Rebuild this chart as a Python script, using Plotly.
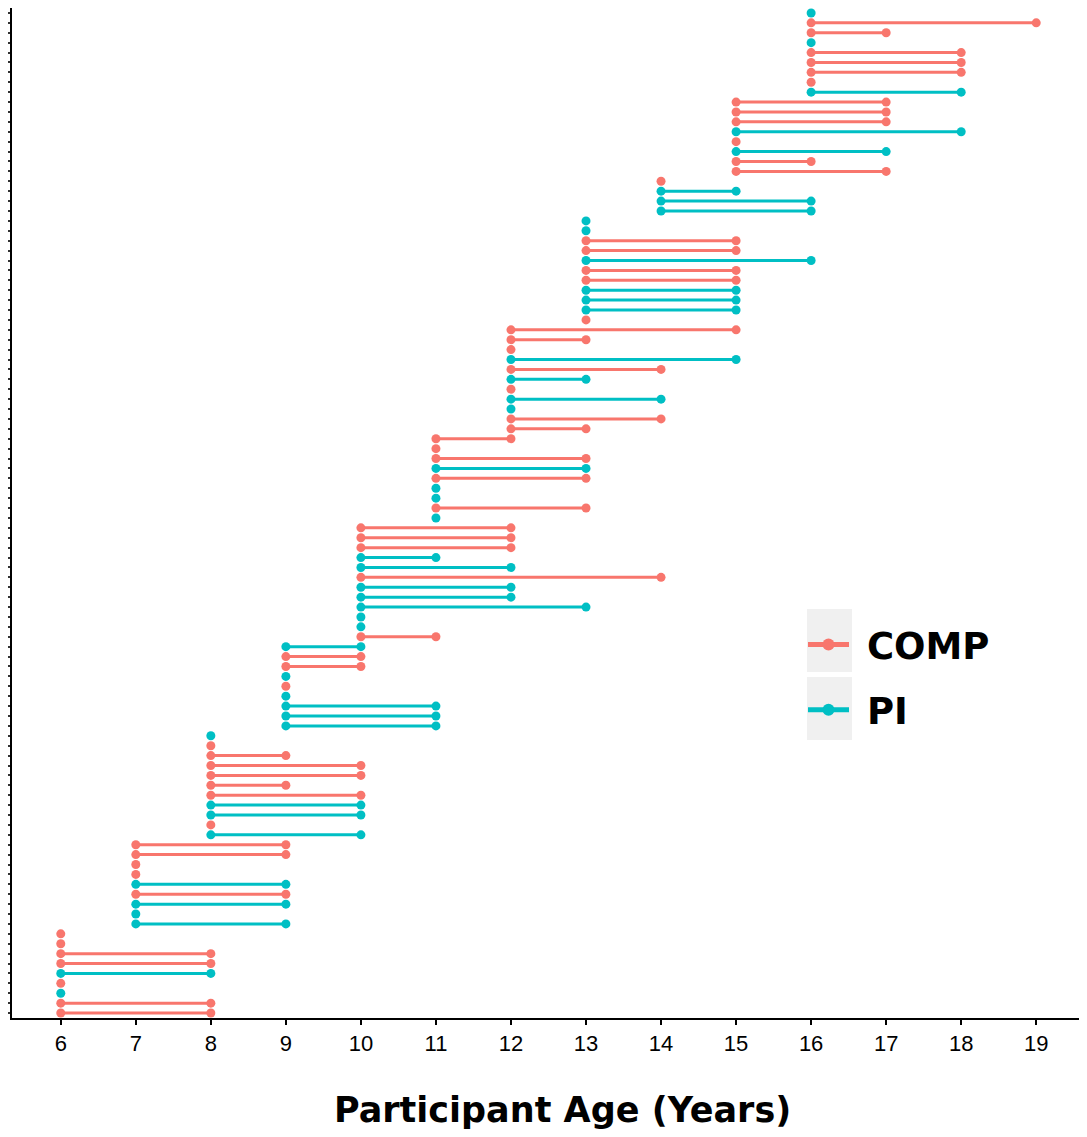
import plotly.graph_objects as go

# Rows listed top to bottom: group, age at first visit, age at last visit
groups = ["PI", "COMP", "COMP", "PI", "COMP", "COMP", "COMP", "COMP", "PI", "COMP",
          "COMP", "COMP", "PI", "COMP", "PI", "COMP", "COMP", "COMP", "PI", "PI",
          "PI", "PI", "PI", "COMP", "COMP", "PI", "COMP", "COMP", "PI", "PI",
          "PI", "COMP", "COMP", "COMP", "COMP", "PI", "COMP", "PI", "COMP", "PI",
          "PI", "COMP", "COMP", "COMP", "COMP", "COMP", "PI", "COMP", "PI", "PI",
          "COMP", "PI", "COMP", "COMP", "COMP", "PI", "PI", "COMP", "PI", "PI",
          "PI", "PI", "PI", "COMP", "PI", "COMP", "COMP", "PI", "COMP", "PI",
          "PI", "PI", "PI", "PI", "COMP", "COMP", "COMP", "COMP", "COMP", "COMP",
          "PI", "PI", "COMP", "PI", "COMP", "COMP", "COMP", "COMP", "PI", "COMP",
          "PI", "PI", "PI", "COMP", "COMP", "COMP", "COMP", "PI", "COMP", "PI",
          "COMP", "COMP"]
start_age = [16, 16, 16, 16, 16, 16, 16, 16, 16, 15,
             15, 15, 15, 15, 15, 15, 15, 14, 14, 14,
             14, 13, 13, 13, 13, 13, 13, 13, 13, 13,
             13, 13, 12, 12, 12, 12, 12, 12, 12, 12,
             12, 12, 12, 11, 11, 11, 11, 11, 11, 11,
             11, 11, 10, 10, 10, 10, 10, 10, 10, 10,
             10, 10, 10, 10, 9, 9, 9, 9, 9, 9,
             9, 9, 9, 8, 8, 8, 8, 8, 8, 8,
             8, 8, 8, 8, 7, 7, 7, 7, 7, 7,
             7, 7, 7, 6, 6, 6, 6, 6, 6, 6,
             6, 6]
end_age = [16, 19, 17, 16, 18, 18, 18, 16, 18, 17,
           17, 17, 18, 15, 17, 16, 17, 14, 15, 16,
           16, 13, 13, 15, 15, 16, 15, 15, 15, 15,
           15, 13, 15, 13, 12, 15, 14, 13, 12, 14,
           12, 14, 13, 12, 11, 13, 13, 13, 11, 11,
           13, 11, 12, 12, 12, 11, 12, 14, 12, 12,
           13, 10, 10, 11, 10, 10, 10, 9, 9, 9,
           11, 11, 11, 8, 8, 9, 10, 10, 9, 10,
           10, 10, 8, 10, 9, 9, 7, 7, 9, 9,
           9, 7, 9, 6, 6, 8, 8, 8, 6, 6,
           8, 8]
x_ticks = list(range(6, 20))
x_title = "Participant Age (Years)"

colors = {"COMP": "#F8766D", "PI": "#00BFC4"}
n = len(groups)
rows = [n - i for i in range(n)]  # top row gets highest position

fig = go.Figure()
for g in ["COMP", "PI"]:
    xs, ys = [], []
    for grp, s, e, r in zip(groups, start_age, end_age, rows):
        if grp != g:
            continue
        if e != s:
            xs += [s, e, None]
            ys += [r, r, None]
        else:
            xs += [s, None]
            ys += [r, None]
    fig.add_trace(go.Scatter(
        x=xs, y=ys, mode="lines+markers", name="\u00a0" + g, legendgroup=g,
        line=dict(color=colors[g], width=3),
        marker=dict(color=colors[g], size=9),
        connectgaps=False,
    ))

# page body has an 8px margin, so the figure is sized to fit the window
OFF = 8
W, H = 1087 - OFF, 1137 - OFF
L, R, T, B = 12 - OFF, 2, 8 - OFF, 119
pw = W - L - R
ph = H - T - B

def px2x(p):
    return (p - OFF - L) / pw

def py2y(p):
    return (H - B - (p - OFF)) / ph

shapes = []
for (y0, y1) in [(609, 672), (677, 740)]:
    shapes.append(dict(type="rect", xref="paper", yref="paper",
                       x0=px2x(807), x1=px2x(852), y0=py2y(y1), y1=py2y(y0),
                       fillcolor="#F0F0F0", line=dict(width=0), layer="below"))

fig.update_layout(
    width=W, height=H,
    margin=dict(l=L, r=R, t=T, b=B),
    plot_bgcolor="white", paper_bgcolor="white",
    shapes=shapes,
    showlegend=True,
    legend=dict(
        x=px2x(803), y=py2y(614), xanchor="left", yanchor="top",
        bgcolor="rgba(0,0,0,0)", borderwidth=0,
        font=dict(family="DejaVu Sans, Liberation Sans, sans-serif", size=37, color="black",
                  weight="bold"),
        tracegroupgap=14, itemwidth=41, itemsizing="constant",
    ),
    annotations=[dict(
        text="<b>" + x_title + "</b>", xref="paper", yref="paper",
        x=px2x(562), y=py2y(1110), xanchor="center", yanchor="middle",
        showarrow=False,
        font=dict(family="DejaVu Sans, Liberation Sans, sans-serif", size=35, color="black"),
    )],
    xaxis=dict(
        range=[5.35, 19.65], tickvals=x_ticks, ticktext=[str(v) for v in x_ticks],
        showline=True, linecolor="black", linewidth=2,
        ticks="outside", ticklen=5, tickwidth=1.5, tickcolor="black",
        showgrid=False, zeroline=False,
        tickfont=dict(family="Liberation Sans Narrow, Arial Narrow, Liberation Sans, sans-serif",
                      size=22, color="black"),
    ),
    yaxis=dict(
        range=[0.5, n + 0.5], tickvals=rows, showticklabels=False,
        showline=True, linecolor="black", linewidth=1.5,
        ticks="outside", ticklen=4, tickwidth=1.5, tickcolor="#333333",
        showgrid=False, zeroline=False,
    ),
)

fig.write_html("out.html")
